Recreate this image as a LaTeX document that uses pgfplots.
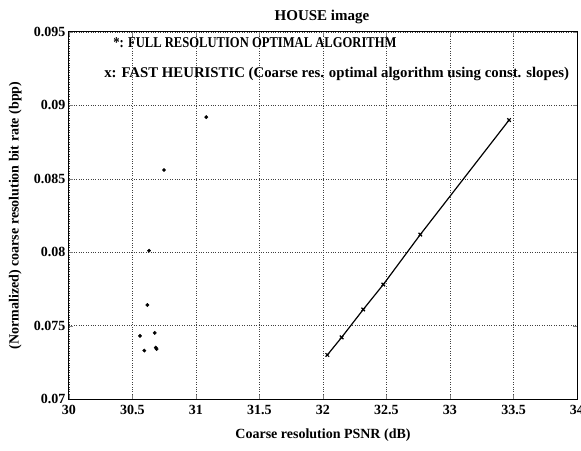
\documentclass[border=0pt]{standalone}
\usepackage{pgfplots}
\pgfplotsset{compat=1.18}
\usepackage{graphicx}
\usepackage{fontspec}
\setmainfont{Liberation Serif}

\begin{document}
\begin{tikzpicture}
\begin{axis}[
    width=508pt, height=367pt,
    scale only axis,
    font=\fontsize{14}{16}\selectfont\bfseries,
    xmin=30, xmax=34,
    ymin=0.07, ymax=0.095,
    xtick={30,30.5,...,34},
    ytick={0.07,0.075,...,0.095},
    scaled y ticks=false,
    yticklabel style={/pgf/number format/fixed, /pgf/number format/precision=3},
    xticklabel style={/pgf/number format/fixed, yshift=-3pt},
    /pgf/number format/assume math mode=true,
    tick label style={font=\fontsize{14}{16}\selectfont\bfseries},
    tick align=inside,
    major tick length=4pt,
    grid=major,
    major grid style={dotted, black!75, line width=0.5pt},
    axis line style={line width=1pt},
    title={HOUSE image},
    title style={font=\fontsize{15}{17}\selectfont\bfseries, at={(axis description cs:0.498,1.024)}, anchor=center},
    xlabel={Coarse resolution PSNR (dB)},
    xlabel style={at={(axis description cs:0.5,-0.098)}, anchor=center},
    ylabel={(Normalized) coarse resolution bit rate (bpp)},
    ylabel style={at={(axis description cs:-0.106,0.5)}, anchor=center},
]
% full resolution optimal algorithm
\addplot[only marks, mark=*, mark size=1.7pt, black] coordinates {
    (31.081,0.0892) (30.748,0.0856) (30.630,0.0801) (30.617,0.0764)
    (30.559,0.0743) (30.675,0.0745) (30.593,0.0733) (30.683,0.0735)
    (30.690,0.0734)
};
% fast heuristic
\addplot[black, line width=1.2pt, mark=x, mark size=2.5pt] coordinates {
    (32.034,0.0730) (32.147,0.0742) (32.317,0.0761) (32.475,0.0778)
    (32.766,0.0812) (33.465,0.0890)
};
\node[anchor=west, inner sep=0pt, font=\fontsize{15}{17}\selectfont\bfseries]
    at (rel axis cs:0.087,0.970)
    {\scalebox{0.84}[1]{*: FULL RESOLUTION OPTIMAL ALGORITHM}};
\node[anchor=west, inner sep=0pt, font=\fontsize{14.8}{17}\selectfont\bfseries]
    at (rel axis cs:0.069,0.886)
    {x: FAST HEURISTIC (Coarse res. optimal algorithm using const. slopes)};
\end{axis}
\pgfresetboundingbox
\path ([shift={(-69pt,-51pt)}]current axis.south west) rectangle ([shift={(4pt,32pt)}]current axis.north east);
\end{tikzpicture}
\end{document}
